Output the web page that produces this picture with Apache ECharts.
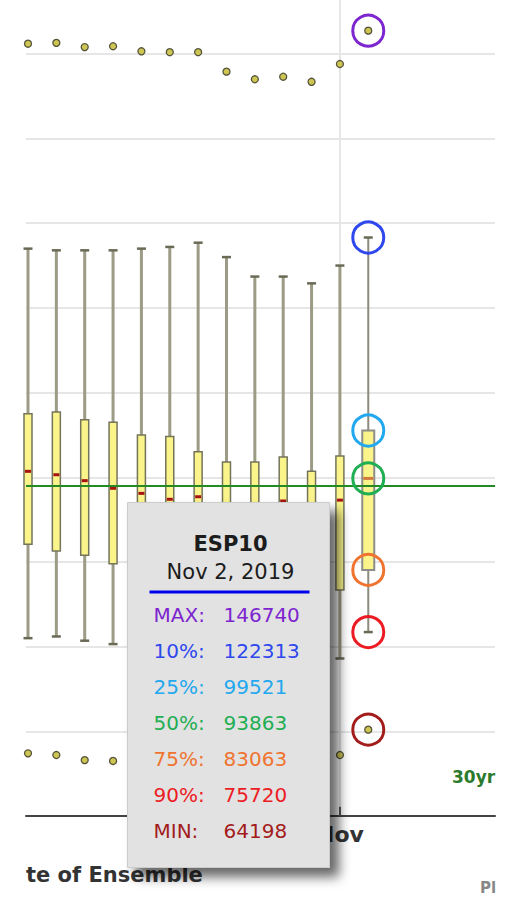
<!DOCTYPE html>
<html>
<head>
<meta charset="utf-8">
<title>ESP10 ensemble</title>
<script src="https://cdn.jsdelivr.net/npm/echarts@6/dist/echarts.min.js"></script>
<style>
  html, body { margin: 0; padding: 0; background: #fff; }
  #chart { width: 511px; height: 898px; }
</style>
</head>
<body>
<div id="chart"></div>
<script>
// ensemble dates (one box per day)
var dates = ['2019-10-21', '2019-10-22', '2019-10-23', '2019-10-24', '2019-10-25', '2019-10-26',
             '2019-10-27', '2019-10-28', '2019-10-29', '2019-10-30', '2019-10-31', '2019-11-01', '2019-11-02'];
var maxVals = [145200, 145300, 144800, 144900, 144300, 144200, 144200, 141900, 141000, 141300, 140700, 142800, 146740];
var p10 = [121000, 120800, 120800, 120800, 121000, 121200, 121700, 120000, 117700, 117700, 116900, 119000, 122313];
var p25 = [101500, 101700, 100800, 100500, 99000, 98800, 97000, 95800, 95800, 96400, 94700, 96500, 99521];
var p50 = [94700, 94300, 93600, 92700, 92100, 91400, 91700, 90600, 90700, 91200, 90100, 91300, 93863];
var p75 = [86100, 85300, 84800, 83800, 83000, 82500, 82500, 81600, 81600, 81900, 81300, 80700, 83063];
var p90 = [75000, 75200, 74700, 74300, 73800, 73600, 73600, 73000, 73000, 73400, 72900, 72600, 75720];
var minVals = [61400, 61200, 60600, 60500, 60800, 60700, 61000, 60800, 60600, 60700, 61000, 61200, 64198];
var avg30yr = 93000;
var gridValues = [64000, 74000, 84000, 94000, 104000, 114000, 124000, 134000, 144000];
var monthTicks = ['2019-11-01'];
var seriesName = 'ESP10';
var tipLabels = ['MAX:', '10%:', '25%:', '50%:', '75%:', '90%:', 'MIN:'];
var tipColors = ['#7d25cf', '#2f48ee', '#22a8ee', '#1fae52', '#ef7430', '#ec1c24', '#a31c1c'];
var monthNames = ['Jan', 'Feb', 'Mar', 'Apr', 'May', 'Jun', 'Jul', 'Aug', 'Sep', 'Oct', 'Nov', 'Dec'];

var DAY = 86400000;
var Y_MIN = 54000;
var n = dates.length - 1;
var t0 = +echarts.time.parse(dates[0]);
var monthTickTimes = monthTicks.map(function (d) { return +echarts.time.parse(d); });

var boxData = dates.map(function (d, i) {
    return [d, p10[i], p25[i], p50[i], p75[i], p90[i]];
});
var maxData = dates.map(function (d, i) { return [d, maxVals[i]]; });
var minData = dates.map(function (d, i) { return [d, minVals[i]]; });

var lastVals = [maxVals[n], p10[n], p25[n], p50[n], p75[n], p90[n], minVals[n]];
var circleData = lastVals.map(function (v, k) {
    return { value: [dates[n], v], itemStyle: { borderColor: tipColors[k] } };
});

function renderBox(params, api) {
    var last = params.dataIndex === n;
    var t = api.value(0);
    var top = api.coord([t, api.value(1)]);
    var q1 = api.coord([t, api.value(2)]);
    var med = api.coord([t, api.value(3)]);
    var q3 = api.coord([t, api.value(4)]);
    var bot = api.coord([t, api.value(5)]);
    var x = top[0];
    var bw = last ? 12 : 8;
    var cw = 9;
    return {
        type: 'group',
        children: [
            { type: 'line', shape: { x1: x, y1: top[1], x2: x, y2: bot[1] },
              style: { stroke: last ? '#8c8b7c' : '#9c9b86', lineWidth: last ? 2 : 3 } },
            { type: 'line', shape: { x1: x - cw / 2, y1: top[1], x2: x + cw / 2, y2: top[1] },
              style: { stroke: '#6a6a56', lineWidth: 2.5 } },
            { type: 'line', shape: { x1: x - cw / 2, y1: bot[1], x2: x + cw / 2, y2: bot[1] },
              style: { stroke: '#6a6a56', lineWidth: 2.5 } },
            { type: 'rect', shape: { x: x - bw / 2, y: q1[1], width: bw, height: q3[1] - q1[1] },
              style: { fill: '#faf48a', stroke: last ? '#8e8e88' : '#74745a', lineWidth: last ? 2 : 1.5 } },
            { type: 'rect', shape: { x: x - bw / 2 + 1, y: med[1] - 1.5, width: bw - 2, height: 3 },
              style: { fill: last ? '#d07a40' : '#a81212' } }
        ]
    };
}

// tooltip-like panel for the last ensemble
var TIP_Z = 100;
var d = echarts.time.parse(dates[n]);
var tipDate = monthNames[d.getMonth()] + ' ' + d.getDate() + ', ' + d.getFullYear();
var tipChildren = [
    { type: 'rect', z: TIP_Z, shape: { x: 0, y: 0, width: 202, height: 365 },
      style: { fill: '#e2e2e2', stroke: '#cccccc', lineWidth: 1,
               shadowBlur: 12, shadowOffsetX: 9, shadowOffsetY: 9, shadowColor: 'rgba(0,0,0,0.6)' } },
    { type: 'text', z: TIP_Z + 1, x: 103, y: 41,
      style: { text: seriesName, fill: '#1c1c1c', font: 'bold 21px "DejaVu Sans"', align: 'center', verticalAlign: 'middle' } },
    { type: 'text', z: TIP_Z + 1, x: 103, y: 69,
      style: { text: tipDate, fill: '#1c1c1c', font: '21px "DejaVu Sans"', align: 'center', verticalAlign: 'middle' } },
    { type: 'rect', z: TIP_Z + 1, shape: { x: 22, y: 88, width: 160, height: 3 }, style: { fill: '#0000ee' } }
];
lastVals.forEach(function (v, k) {
    var y = 112 + k * 36;
    tipChildren.push({ type: 'text', z: TIP_Z + 1, x: 26, y: y,
        style: { text: tipLabels[k], fill: tipColors[k], font: '20px "DejaVu Sans"', verticalAlign: 'middle' } });
    tipChildren.push({ type: 'text', z: TIP_Z + 1, x: 96, y: y,
        style: { text: String(v), fill: tipColors[k], font: '20px "DejaVu Sans"', verticalAlign: 'middle' } });
});

var option = {
    animation: false,
    backgroundColor: '#ffffff',
    textStyle: { fontFamily: 'DejaVu Sans' },
    grid: { left: 26, right: 16, top: 0, bottom: 82, containLabel: false },
    xAxis: {
        type: 'time',
        min: t0 - 0.0705 * DAY,
        max: t0 + (16.54 - 0.0705) * DAY,
        axisLine: { lineStyle: { color: '#444444', width: 2 } },
        axisTick: { show: false },
        axisLabel: {
            margin: 7,
            fontSize: 22,
            fontWeight: 'bold',
            color: '#333333',
            hideOverlap: false,
            showMinLabel: false,
            showMaxLabel: false,
            formatter: function (val) {
                var dt = new Date(val);
                return dt.getDate() === 1 && dt.getHours() === 0 ? monthNames[dt.getMonth()] : '';
            }
        },
        splitLine: { show: false }
    },
    yAxis: {
        type: 'value',
        min: Y_MIN,
        max: 150360,
        show: false,
        splitLine: { show: false }
    },
    series: [
        {
            type: 'line',
            data: [],
            silent: true,
            markLine: {
                z: 1,
                silent: true,
                symbol: 'none',
                label: { show: false },
                lineStyle: { color: '#e6e6e6', width: 2, type: 'solid' },
                data: gridValues.map(function (v) { return { yAxis: v }; })
                    .concat(monthTickTimes.map(function (t) { return { xAxis: t }; }))
            }
        },
        {
            type: 'line',
            data: [],
            silent: true,
            markLine: {
                z: 6,
                silent: true,
                symbol: 'none',
                label: { show: false },
                lineStyle: { color: '#555555', width: 2, type: 'solid' },
                data: monthTickTimes.map(function (t) {
                    return [{ coord: [t, Y_MIN] }, { coord: [t, Y_MIN + 1100] }];
                })
            }
        },
        {
            type: 'custom',
            name: seriesName,
            z: 3,
            renderItem: renderBox,
            encode: { x: 0, y: [1, 2, 3, 4, 5] },
            data: boxData,
            markLine: {
                z: 4,
                silent: true,
                symbol: 'none',
                label: { show: false },
                lineStyle: { color: '#248a24', width: 2, type: 'solid' },
                data: [{ yAxis: avg30yr }]
            }
        },
        {
            type: 'scatter',
            z: 4,
            symbol: 'circle',
            symbolSize: 7,
            itemStyle: { color: '#cfc552', borderColor: '#55553c', borderWidth: 1.3, opacity: 1 },
            data: maxData.concat(minData)
        },
        {
            type: 'scatter',
            z: 5,
            symbol: 'circle',
            symbolSize: 31,
            itemStyle: { color: 'rgba(0,0,0,0)', borderWidth: 3, opacity: 1 },
            data: circleData
        }
    ],
    graphic: [
        { type: 'text', left: 452, top: 768, z: 50,
          style: { text: '30yr', fill: '#2c7a2c', font: 'bold 17px "DejaVu Sans"' } },
        { type: 'text', left: 26, top: 864, z: 50,
          style: { text: 'te of Ensemble', fill: '#333333', font: 'bold 21px "DejaVu Sans"' } },
        { type: 'text', left: 480, top: 880, z: 50,
          style: { text: 'Pl', fill: '#888888', font: 'bold 15px "DejaVu Sans"' } },
        { type: 'group', left: 127, top: 502, z: TIP_Z, children: tipChildren }
    ]
};

var chart = echarts.init(document.getElementById('chart'), null, { renderer: 'svg' });
chart.setOption(option);
</script>
</body>
</html>
